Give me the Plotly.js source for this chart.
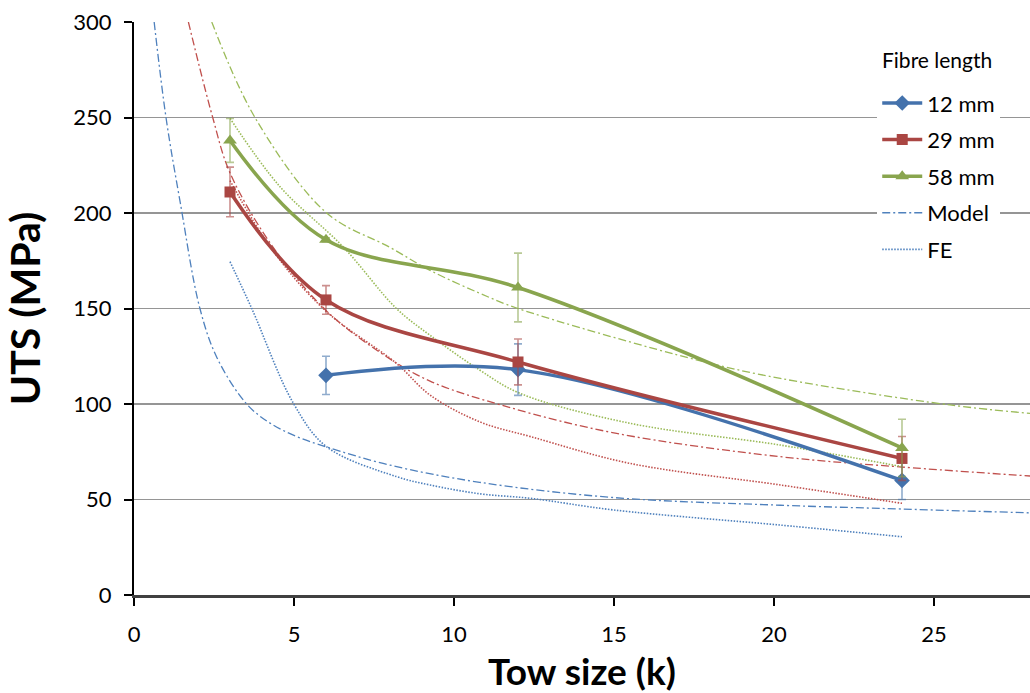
<!DOCTYPE html>
<html>
<head>
<meta charset="utf-8">
<script src="https://cdn.plot.ly/plotly-3.0.1.min.js"></script>
<style>html,body{margin:0;padding:0;background:#fff;}#chart{width:1030px;height:693px;}</style>
</head>
<body>
<div id="chart"></div>
<script>
// Experimental data
var towX12 = [6, 12, 24];
var uts12 = [115, 118, 60];
var err12 = [10, 13.5, 10];

var towX29 = [3, 6, 12, 24];
var uts29 = [211, 154.5, 122, 71.5];
var err29 = [13, 7.5, 12, 11.5];

var towX58 = [3, 6, 12, 24];
var uts58 = [238, 186, 161, 77];
var err58 = [11.5, 1, 18, 15];

// Model curves (dash-dot)
var modelX12 = [0.63, 1.0, 1.45, 2.06, 2.6, 3.52, 4.25, 5.08, 6, 8, 10.8, 15, 20.2, 24, 28];
var modelY12 = [300, 250, 205, 150, 124, 100, 90, 83, 77.6, 68, 59, 51, 47, 45, 43];
var modelX29 = [1.7, 2.46, 3.0, 4.35, 6.0, 7.69, 9.25, 11.65, 15.08, 20.2, 24, 28];
var modelY29 = [300, 250, 221, 182, 149, 127, 112, 98.6, 84.6, 72.4, 67, 62.3];
var modelX58 = [2.43, 3.78, 6.02, 8.0, 9.25, 10.8, 12, 17.6, 20.2, 25.5, 28];
var modelY58 = [300, 250, 200, 182, 170, 158, 150, 123, 113.4, 99.5, 95.1];

// FE curves (dotted)
var feX12 = [3, 3.68, 4.98, 6.02, 8.2, 9.25, 10.8, 12.4, 15, 20.2, 24];
var feY12 = [174.5, 150, 100.4, 77.6, 62, 57.6, 53, 50.6, 44.5, 36.6, 30.5];
var feX29 = [3, 4.35, 6.02, 8.2, 9.25, 10.8, 12.4, 15.5, 20.2, 24];
var feY29 = [217, 180, 148.3, 121.3, 104.7, 90.7, 82.9, 68.9, 57.6, 48];
var feX58 = [3, 4.56, 6.54, 8.2, 9.25, 10.8, 12.06, 15.5, 20.2, 24];
var feY58 = [249.6, 213.8, 182.2, 150, 136, 117.8, 105.6, 89.9, 78.5, 67.2];

var xTicks = [0, 5, 10, 15, 20, 25];
var yTicks = [0, 50, 100, 150, 200, 250, 300];
var legendTitle = 'Fibre length';

var cBlue = '#4472AC', cRed = '#AA4643', cGreen = '#89A54E';
var mBlue = '#4F81BD', mRed = '#C0504D', mGreen = '#9BBB59';
var eBlue = 'rgba(70,116,171,0.6)', eRed = 'rgba(170,70,67,0.6)', eGreen = 'rgba(137,165,78,0.6)';

var dashDot = '8px,3px,2px,3px';
var dotted = '1.5px,1.5px';

function modelTrace(x, y, color, name, show, rank) {
  return {x: x, y: y, mode: 'lines', name: name, showlegend: show, legendrank: rank, legendgroup: 'g' + rank,
    line: {color: color, width: 1.3, dash: dashDot, shape: 'spline', smoothing: 1}, hoverinfo: 'skip'};
}
function feTrace(x, y, color, name, show, rank) {
  return {x: x, y: y, mode: 'lines', name: name, showlegend: show, legendrank: rank, legendgroup: 'g' + rank,
    line: {color: color, width: 1.6, dash: dotted, shape: 'spline', smoothing: 1}, hoverinfo: 'skip'};
}
function dataTrace(x, y, e, color, ecolor, sym, size, name, rank) {
  return {x: x, y: y, mode: 'lines+markers', name: name, legendrank: rank, legendgroup: 'g' + rank,
    line: {color: color, width: 3.5, shape: 'spline', smoothing: 1},
    marker: {symbol: sym, size: size, color: color},
    error_y: {type: 'data', array: e, visible: true, color: ecolor, thickness: 1.6, width: 4}};
}

var data = [
  modelTrace(modelX12, modelY12, mBlue, 'Model', true, 4),
  modelTrace(modelX29, modelY29, mRed, 'Model 29', false, 10),
  modelTrace(modelX58, modelY58, mGreen, 'Model 58', false, 11),
  feTrace(feX12, feY12, mBlue, 'FE', true, 5),
  feTrace(feX29, feY29, mRed, 'FE 29', false, 12),
  feTrace(feX58, feY58, mGreen, 'FE 58', false, 13),
  dataTrace(towX12, uts12, err12, cBlue, eBlue, 'diamond', 12, '12 mm', 1),
  dataTrace(towX29, uts29, err29, cRed, eRed, 'square', 11, '29 mm', 2),
  dataTrace(towX58, uts58, err58, cGreen, eGreen, 'triangle-up', 12, '58 mm', 3)
];

var layout = {
  width: 1030, height: 693,
  margin: {l: 134, r: 0, t: 22, b: 98},
  paper_bgcolor: '#fff', plot_bgcolor: '#fff',
  font: {family: 'Lato, "Open Sans", sans-serif', color: '#000', size: 22},
  xaxis: {
    range: [0, 28], tickvals: xTicks, ticktext: xTicks.map(String),
    showgrid: false, zeroline: false,
    showline: true, linecolor: '#404040', linewidth: 2.5,
    ticks: 'outside', ticklen: 8, tickwidth: 2, tickcolor: '#000',
    ticklabelstandoff: 10,
    tickfont: {size: 22, family: 'Lato, sans-serif'},
    title: {text: '<b>Tow size (k)</b>', font: {size: 37, family: 'Lato, sans-serif'}, standoff: 14}
  },
  yaxis: {
    range: [0, 300], tickvals: yTicks, ticktext: yTicks.map(String),
    showgrid: true, gridcolor: '#959595', gridwidth: 1.4, zeroline: false,
    showline: true, linecolor: '#000', linewidth: 2,
    ticks: 'outside', ticklen: 8, tickwidth: 2, tickcolor: '#000',
    ticklabelstandoff: 8,
    tickfont: {size: 22, family: 'Lato, sans-serif'},
    title: {text: '<b>UTS (MPa)</b>', font: {size: 41, family: 'Lato, sans-serif'}, standoff: 22}
  },
  showlegend: true,
  legend: {
    x: 0.8295, y: 0.895, xanchor: 'left', yanchor: 'top',
    bgcolor: '#fff', borderwidth: 0,
    font: {size: 22, family: 'Lato, sans-serif'},
    itemwidth: 40, tracegroupgap: 5, traceorder: 'grouped'
  },
  shapes: [{type: 'rect', xref: 'paper', yref: 'paper', x0: 0.825, x1: 0.975, y0: 0.88, y1: 0.975,
    fillcolor: '#fff', line: {width: 0}, layer: 'above'}],
  annotations: [{text: legendTitle, xref: 'paper', yref: 'paper', x: 0.8326, y: 0.9337,
    xanchor: 'left', yanchor: 'middle', showarrow: false,
    font: {size: 21, family: 'Lato, sans-serif', color: '#000'}}]
};

Plotly.newPlot('chart', data, layout, {displayModeBar: false, staticPlot: true});
</script>
</body>
</html>
